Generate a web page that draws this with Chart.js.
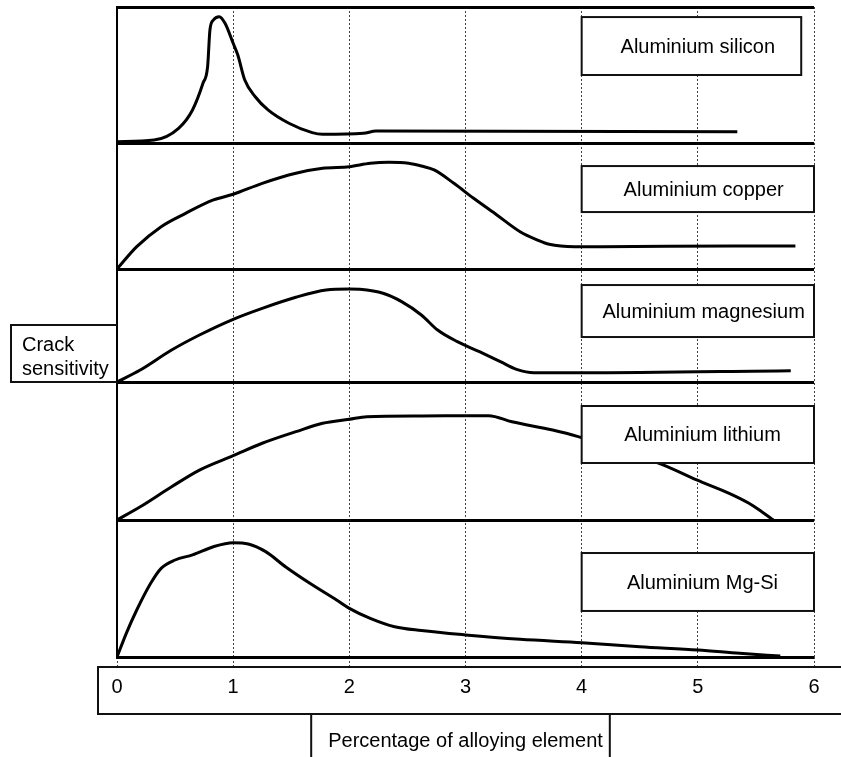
<!DOCTYPE html>
<html>
<head>
<meta charset="utf-8">
<script src="https://cdn.jsdelivr.net/npm/chart.js@4.4.1/dist/chart.umd.min.js"></script>
<style>
  html, body { margin: 0; padding: 0; background: #fff; }
</style>
</head>
<body>
<canvas id="crack" width="841" height="757"></canvas>
<script>
const X_TICKS = [0, 1, 2, 3, 4, 5, 6];

// relative crack sensitivity (% of panel height) vs. alloy content (%)
const SI_X = [0, 0.32, 0.53, 0.65, 0.74, 0.78, 0.80, 0.83, 0.88, 0.93, 1.00, 1.04, 1.10, 1.19, 1.30, 1.48, 1.68, 1.77, 2.12, 2.23, 5.34];
const SI_Y = [1, 2.2, 10.8, 24.3, 43.9, 56.1, 83.1, 90.4, 92.9, 88, 73.3, 64.7, 46.3, 34, 24.3, 14.5, 7.6, 6.4, 7.1, 8.8, 8.2];

const CU_X = [0, 0.17, 0.38, 0.59, 0.83, 1.00, 1.25, 1.54, 1.77, 2.00, 2.18, 2.34, 2.51, 2.62, 2.73, 2.90, 3.07, 3.27, 3.47, 3.62, 3.72, 3.94, 4.17, 5.31, 5.84];
const CU_Y = [0, 17.7, 33.6, 44.2, 54.8, 59.3, 68, 76, 79.9, 81.2, 83.9, 84.7, 83.9, 81.7, 78.6, 68, 56.1, 42.9, 29.6, 23, 19.6, 17.7, 17.7, 18.3, 18.3];

const MG_X = [0, 0.20, 0.47, 0.71, 1.00, 1.25, 1.54, 1.80, 2.00, 2.09, 2.29, 2.45, 2.62, 2.76, 2.93, 3.12, 3.30, 3.44, 3.59, 4.00, 5.80];
const MG_Y = [0, 10.6, 28.3, 41.6, 55.5, 65.2, 75, 81.4, 82.3, 82, 78.5, 71.1, 59.3, 46, 35.7, 26.8, 18, 11.2, 8.2, 8.2, 10];

const LI_X = [0, 0.20, 0.47, 0.71, 1.00, 1.25, 1.54, 1.77, 2.00, 2.15, 2.62, 3.20, 3.40, 3.75, 3.97, 4.70, 4.99, 5.27, 5.44, 5.55, 5.65];
const LI_Y = [0, 9.6, 24.1, 36.2, 46.6, 55.6, 64, 70.1, 73, 74.9, 75.4, 75.6, 71.2, 65.2, 60.4, 39.9, 29, 19.3, 12.1, 6, 0];

const MGSI_X = [0, 0.08, 0.17, 0.29, 0.38, 0.50, 0.65, 0.83, 1.00, 1.13, 1.28, 1.45, 1.66, 1.89, 2.00, 2.18, 2.39, 2.62, 3.00, 3.47, 4.00, 4.50, 5.00, 5.36, 5.71];
const MGSI_Y = [0, 17.3, 34.3, 53.8, 64.7, 70.8, 74.5, 80.5, 83.4, 82.5, 76.9, 65.9, 53.8, 41.6, 35.5, 28.2, 22.1, 19.3, 16.1, 12.9, 10.4, 7.5, 5.1, 2.7, 0.7];

const PANEL_LABELS = ["Aluminium silicon", "Aluminium copper", "Aluminium magnesium", "Aluminium lithium", "Aluminium Mg-Si"];
const PANEL_AXES = ["ySi", "yCu", "yMg", "yLi", "yMgSi"];
const PANEL_X = [SI_X, CU_X, MG_X, LI_X, MGSI_X];
const PANEL_Y = [SI_Y, CU_Y, MG_Y, LI_Y, MGSI_Y];

// label box placement, in axis units of each panel
const BOX_LEFT = 4;
const BOX_RIGHT = [5.89, 6, 6, 6, 6];
const BOX_TOP = [92.6, 81.7, 85.8, 82.6, 75.9];
const BOX_BOTTOM = [50, 45.2, 39.8, 41.3, 33.6];
const TEXT_X = [5.0, 5.05, 5.05, 5.04, 5.04];

const FONT = '"Liberation Sans", Arial, Helvetica, sans-serif';
const GRID = "rgba(0,0,0,0.75)";

Chart.defaults.font.family = FONT;
Chart.defaults.color = "#000";

function panelAxis(weight) {
  return {
    type: "linear",
    position: "left",
    stack: "panels",
    stackWeight: weight,
    min: 0,
    max: 100,
    offset: false,
    ticks: { display: false, stepSize: 100 },
    grid: { color: "#000", lineWidth: 3, drawTicks: false },
    border: { display: true, color: "#000", width: 2 }
  };
}

const panelBoxes = {
  id: "panelBoxes",
  afterDatasetsDraw(chart) {
    const { ctx, scales } = chart;
    const x = scales.x;
    ctx.save();
    ctx.font = "20px " + FONT;
    ctx.textAlign = "center";
    ctx.textBaseline = "middle";
    PANEL_AXES.forEach((id, i) => {
      const y = scales[id];
      const l = x.getPixelForValue(BOX_LEFT), r = x.getPixelForValue(BOX_RIGHT[i]);
      const t = y.getPixelForValue(BOX_TOP[i]), b = y.getPixelForValue(BOX_BOTTOM[i]);
      ctx.fillStyle = "#fff";
      ctx.fillRect(l, t, r - l, b - t);
      ctx.lineWidth = 2;
      ctx.strokeStyle = "#111";
      ctx.strokeRect(l, t, r - l, b - t);
      ctx.fillStyle = "#000";
      ctx.fillText(PANEL_LABELS[i], x.getPixelForValue(TEXT_X[i]), (t + b) / 2 + 1);
    });
    ctx.restore();
  }
};

// boxes round the y label, the tick row and the x title
const frames = {
  id: "frames",
  afterDraw(chart) {
    const { ctx, scales, chartArea } = chart;
    const x = scales.x;
    ctx.save();
    ctx.strokeStyle = "#111";
    ctx.lineWidth = 2;

    // y label box, sitting on the magnesium/lithium boundary
    const yb = scales.yMg.getPixelForValue(0);
    const bl = 11;
    ctx.beginPath();
    ctx.moveTo(chartArea.left, yb - 57);
    ctx.lineTo(bl, yb - 57);
    ctx.lineTo(bl, yb);
    ctx.lineTo(chartArea.left, yb);
    ctx.stroke();
    ctx.fillStyle = "#000";
    ctx.font = "20px " + FONT;
    ctx.textAlign = "left";
    ctx.textBaseline = "alphabetic";
    ctx.fillText("Crack", 22, yb - 31);
    ctx.fillText("sensitivity", 22, yb - 7);

    // tick label row
    const tt = chartArea.bottom + 10, tb = tt + 47;
    ctx.beginPath();
    ctx.moveTo(chart.width + 5, tt);
    ctx.lineTo(chartArea.left - 19, tt);
    ctx.lineTo(chartArea.left - 19, tb);
    ctx.lineTo(chart.width + 5, tb);
    ctx.stroke();

    // title box
    const title = x.options.title.text;
    ctx.font = "20px " + FONT;
    const w = ctx.measureText(title).width;
    const cx = (x.left + x.right) / 2 - 5;
    ctx.beginPath();
    ctx.moveTo(cx - w / 2 - 12, chart.height + 5);
    ctx.lineTo(cx - w / 2 - 12, tb);
    ctx.moveTo(cx + w / 2 + 12, tb);
    ctx.lineTo(cx + w / 2 + 12, chart.height + 5);
    ctx.stroke();
    ctx.restore();
  }
};

const datasets = PANEL_AXES.map((id, i) => ({
  label: PANEL_LABELS[i],
  data: PANEL_X[i].map((v, k) => ({ x: v, y: PANEL_Y[i][k] })),
  yAxisID: id,
  borderColor: "#000",
  borderWidth: 3,
  pointRadius: 0,
  cubicInterpolationMode: "monotone",
  fill: false
}));

new Chart(document.getElementById("crack"), {
  type: "line",
  data: { datasets },
  options: {
    responsive: false,
    animation: false,
    devicePixelRatio: 1,
    layout: { padding: { left: 117, right: 27, top: 7, bottom: 0 } },
    plugins: { legend: { display: false }, tooltip: { enabled: false } },
    scales: {
      x: {
        type: "linear",
        min: 0,
        max: 6,
        afterBuildTicks: s => { s.ticks = X_TICKS.map(v => ({ value: v })); },
        grid: { color: GRID, lineWidth: 1, drawTicks: true, tickLength: 10, tickColor: GRID, tickBorderDash: [2, 2] },
        border: { display: false, dash: [2, 2] },
        ticks: { font: { size: 20 }, padding: 8, maxRotation: 0 },
        title: {
          display: true,
          text: "Percentage of alloying element",
          font: { size: 20 },
          padding: { top: 22, bottom: 4 }
        }
      },
      yMgSi: panelAxis(137),
      yLi: panelAxis(138),
      yMg: panelAxis(113),
      yCu: panelAxis(126),
      ySi: panelAxis(136)
    }
  },
  plugins: [panelBoxes, frames]
});
</script>
</body>
</html>
